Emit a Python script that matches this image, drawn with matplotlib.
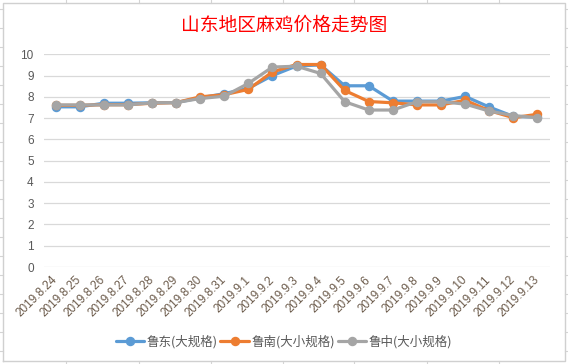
import matplotlib
matplotlib.use("Agg")
import matplotlib.pyplot as plt
from matplotlib.lines import Line2D

plt.rcParams['font.family'] = ['Noto Sans CJK SC', 'DejaVu Sans']

title = "山东地区麻鸡价格走势图"
dates = ["2019.8.24", "2019.8.25", "2019.8.26", "2019.8.27", "2019.8.28", "2019.8.29",
         "2019.8.30", "2019.8.31", "2019.9.1", "2019.9.2", "2019.9.3", "2019.9.4",
         "2019.9.5", "2019.9.6", "2019.9.7", "2019.9.8", "2019.9.9", "2019.9.10",
         "2019.9.11", "2019.9.12", "2019.9.13"]
series_names = ["鲁东(大规格)", "鲁南(大小规格)", "鲁中(大小规格)"]
ludong = [7.53, 7.53, 7.7, 7.7, 7.72, 7.73, 7.95, 8.15, 8.4, 9.0, 9.45, 9.5,
          8.52, 8.52, 7.8, 7.8, 7.8, 8.02, 7.52, 7.08, 7.05]
lunan = [7.6, 7.6, 7.63, 7.63, 7.7, 7.73, 8.0, 8.1, 8.35, 9.17, 9.52, 9.52,
         8.3, 7.78, 7.72, 7.62, 7.62, 7.84, 7.35, 7.02, 7.18]
luzhong = [7.62, 7.62, 7.62, 7.62, 7.72, 7.73, 7.92, 8.03, 8.63, 9.4, 9.44, 9.1,
           7.77, 7.38, 7.38, 7.77, 7.77, 7.66, 7.33, 7.12, 7.02]
yticks = list(range(0, 11))
colors = ["#5B9BD5", "#ED7D31", "#A5A5A5"]

W, H = 568, 364
fig = plt.figure(figsize=(W / 100, H / 100), dpi=100)
fig.patch.set_facecolor("white")

# spreadsheet background grid stubs + chart border
grid_c = "#D4D4D4"
for cx in [66, 139, 211, 283, 354, 427, 499]:
    fig.add_artist(Line2D([cx / W, cx / W], [1, 1 - 3.3 / H], color=grid_c, lw=0.8))
    fig.add_artist(Line2D([cx / W, cx / W], [0, 1 - 360.7 / H], color=grid_c, lw=0.8))
for k in range(19):
    ry = 9.3 + 19 * k
    fy = 1 - ry / H
    fig.add_artist(Line2D([0, 3.3 / W], [fy, fy], color=grid_c, lw=0.8))
    fig.add_artist(Line2D([565.3 / W, 1], [fy, fy], color=grid_c, lw=0.8))
x0, x1, y0, y1 = 3.3 / W, 565.3 / W, 1 - 360.7 / H, 1 - 3.3 / H
fig.add_artist(Line2D([x0, x1, x1, x0, x0], [y0, y0, y1, y1, y0], color="#D0D0D0", lw=1.0))

ax = fig.add_axes([43.5 / W, 1 - 267 / H, (549.5 - 43.5) / W, (267 - 54.3) / H])
x = list(range(len(dates)))
for vals, c, name in zip([ludong, lunan, luzhong], colors, series_names):
    ax.plot(x, vals, color=c, lw=2.3, marker="o", markersize=5.8,
            markerfacecolor=c, markeredgecolor=c, label=name, solid_capstyle="round")

ax.set_xlim(-0.5, len(dates) - 0.5)
ax.set_ylim(0, 10)
ax.set_yticks(yticks)
ax.set_yticklabels([str(v) for v in yticks], fontsize=8.5, color="#595959",
                   family=["Liberation Sans", "DejaVu Sans"])
ax.set_xticks(x)
ax.set_xticklabels(dates, rotation=45, ha="right", va="center", rotation_mode="anchor",
                   fontsize=8.5, color="#6B5A4A", family=["Liberation Sans", "DejaVu Sans"])
ax.tick_params(axis="both", length=0)
ax.tick_params(axis="y", pad=7)
ax.tick_params(axis="x", pad=8)
ax.grid(axis="y", color="#D9D9D9", lw=0.9)
ax.set_axisbelow(True)
for s in ax.spines.values():
    s.set_visible(False)
ax.set_facecolor("none")

fig.text(284 / W, 1 - 25 / H, title, color="#FF0000", fontsize=13.5,
         ha="center", va="center")

handles, labels = ax.get_legend_handles_labels()
fig.legend(handles, labels, loc="center", bbox_to_anchor=(0.5, 1 - 342 / H), ncol=3,
           frameon=False, fontsize=9, handlelength=2.3, columnspacing=0.2,
           handletextpad=0.2, labelcolor="#595959")

fig.savefig("out.png", dpi=100, facecolor="white")
